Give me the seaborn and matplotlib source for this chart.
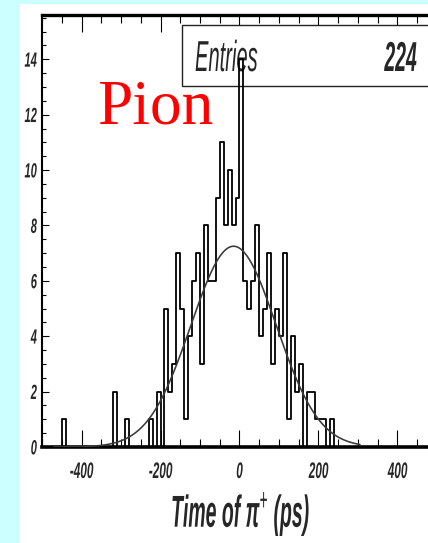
import numpy as np
import pandas as pd
import matplotlib
matplotlib.use("Agg")
import matplotlib.pyplot as plt
import seaborn as sns
from matplotlib import font_manager as fm
from matplotlib.patches import Rectangle
from matplotlib.patheffects import AbstractPathEffect
from matplotlib.transforms import Affine2D
from matplotlib.ticker import MultipleLocator

# ---- data -------------------------------------------------------------
# non-empty 10 ps bins: lower edge (ps) and number of entries
bin_low_ps = [-450, -320, -290, -230, -210, -190, -180, -170, -160, -150,
              -140, -130, -120, -110, -100, -90, -80, -70, -60, -50,
              -40, -30, -20, -10, 0, 10, 20, 30, 40, 50,
              60, 70, 80, 90, 100, 110, 120, 130, 140, 150,
              170, 180, 190, 200, 210, 230]
bin_counts = [1, 2, 1, 1, 2, 5, 2, 3, 7, 5,
              1, 4, 6, 7, 3, 8, 6, 6, 9, 11,
              8, 10, 8, 9, 14, 6, 5, 6, 8, 4,
              5, 7, 3, 5, 4, 7, 1, 4, 2, 3,
              2, 2, 1, 1, 1, 1]
entries_total = 224

# gaussian fit of the time distribution
fit_amplitude = 7.25
fit_mean_ps = -15.0
fit_sigma_ps = 108.0
fit_range_ps = (-470.0, 305.0)

x_ticks = [-400, -200, 0, 200, 400]
x_tick_labels = ["-400", "-200", "0", "200", "400"]
y_ticks = [0, 2, 4, 6, 8, 10, 12, 14]
y_tick_labels = ["0", "2", "4", "6", "8", "10", "12", "14"]

BIN_WIDTH = 10
X_RANGE = (-500, 500)
Y_MAX = 15.6


# ---- fonts --------------------------------------------------------------
def font_available(name):
    try:
        fm.findfont(fm.FontProperties(family=name), fallback_to_default=False)
        return True
    except ValueError:
        return False


SANS = "Liberation Sans Narrow" if font_available("Liberation Sans Narrow") else "Liberation Sans"

sns.set_style("ticks")
plt.rcParams["font.family"] = [SANS, "DejaVu Sans"]
plt.rcParams["axes.unicode_minus"] = False
plt.rcParams["mathtext.fontset"] = "custom"
plt.rcParams["mathtext.rm"] = SANS
plt.rcParams["mathtext.it"] = SANS + ":italic:bold"
plt.rcParams["mathtext.bf"] = SANS + ":bold"


class VStretch(AbstractPathEffect):
    """Draw glyph outlines stretched vertically about the baseline, optionally shifted."""

    def __init__(self, sy, dy=0.0):
        super().__init__()
        self._sy = sy
        self._dy = dy

    def draw_path(self, renderer, gc, tpath, affine, rgbFace=None):
        tr = Affine2D().scale(1.0, self._sy).translate(0.0, self._dy) + affine
        renderer.draw_path(gc, tpath, tr, rgbFace)


# ---- figure -------------------------------------------------------------
W, H = 428, 543
fig = plt.figure(figsize=(W / 100, H / 100), dpi=100)
fig.patch.set_facecolor("#ccffff")
fig.patches.append(Rectangle((20 / W, 0), 1 - 20 / W, (H - 4) / H,
                             transform=fig.transFigure, facecolor="white",
                             edgecolor="none", zorder=-5))

ax_left, ax_right, ax_top, ax_bottom = 42, 437, 15, 447
ax = fig.add_axes([ax_left / W, (H - ax_bottom) / H,
                   (ax_right - ax_left) / W, (ax_bottom - ax_top) / H])
ax.set_facecolor("white")

# histogram
df = pd.DataFrame({"time_ps": np.asarray(bin_low_ps, dtype=float) + BIN_WIDTH / 2,
                   "entries": np.asarray(bin_counts, dtype=float)})
sns.histplot(data=df, x="time_ps", weights="entries",
             binwidth=BIN_WIDTH, binrange=X_RANGE,
             element="step", fill=False, color="black", linewidth=1.3,
             ax=ax)

# fit curve
t_fit = np.linspace(fit_range_ps[0], fit_range_ps[1], 400)
fit_df = pd.DataFrame({
    "t": t_fit,
    "f": fit_amplitude * np.exp(-0.5 * ((t_fit - fit_mean_ps) / fit_sigma_ps) ** 2),
})
sns.lineplot(data=fit_df, x="t", y="f", color="#3a3a3a", linewidth=1.15,
             ax=ax, zorder=3)

ax.set_xlim(*X_RANGE)
ax.set_ylim(0, Y_MAX)
ax.set_ylabel("")

# spines
for side in ("top", "bottom", "left", "right"):
    ax.spines[side].set_visible(True)
    ax.spines[side].set_color("black")
ax.spines["top"].set_linewidth(2.4)
ax.spines["bottom"].set_linewidth(2.6)
ax.spines["left"].set_linewidth(1.5)
ax.spines["right"].set_linewidth(1.5)

# ticks
ax.set_xticks(x_ticks, labels=x_tick_labels)
ax.xaxis.set_minor_locator(MultipleLocator(50))
ax.set_yticks(y_ticks, labels=y_tick_labels)
ax.yaxis.set_minor_locator(MultipleLocator(0.5))
ax.tick_params(axis="x", which="both", direction="in", top=True, bottom=True,
               color="black", width=0.8)
ax.tick_params(axis="x", which="major", length=12, pad=22.3,
               labelsize=8.5)
ax.tick_params(axis="x", which="minor", length=6)
ax.tick_params(axis="y", which="both", direction="in", left=True, right=False,
               color="black", width=0.8)
ax.tick_params(axis="y", which="major", length=5, pad=3.6, labelsize=8)
ax.tick_params(axis="y", which="minor", length=3)

SY_TICK = 1.9
for lab in ax.get_xticklabels():
    lab.set_fontstyle("italic")
    lab.set_fontweight("bold")
    lab.set_va("baseline")
    lab.set_path_effects([VStretch(SY_TICK)])
for lab in ax.get_yticklabels():
    lab.set_fontstyle("italic")
    lab.set_fontweight("bold")
    lab.set_va("baseline")
    lab.set_path_effects([VStretch(1.85, -1.85 * 71.6 / 2)])

# axis title
ax.set_xlabel("Time of π$^{+}$ (ps)", fontsize=14, fontstyle="italic",
              fontweight="bold")
ax.xaxis.set_label_coords((241 - ax_left) / (ax_right - ax_left),
                          (ax_bottom - 527) / (ax_bottom - ax_top))
ax.xaxis.label.set_va("baseline")
ax.xaxis.label.set_path_effects([VStretch(2.3)])


def ax_x(px):
    return (px - ax_left) / (ax_right - ax_left)


def ax_y(py):
    return (ax_bottom - py) / (ax_bottom - ax_top)


# statistics box
ax.add_patch(Rectangle((ax_x(182), ax_y(86)), 1.0 - ax_x(182), ax_y(25) - ax_y(86),
                       transform=ax.transAxes, facecolor="white",
                       edgecolor="#222222", linewidth=1.0, zorder=1))
t1 = ax.text(ax_x(195), ax_y(71), "Entries", transform=ax.transAxes,
             fontsize=14.5, fontstyle="italic", ha="left", va="baseline", zorder=1.5)
t2 = ax.text(ax_x(417), ax_y(71), f"{entries_total}", transform=ax.transAxes,
             fontsize=14, fontstyle="italic", fontweight="bold",
             ha="right", va="baseline", zorder=1.5)
for t in (t1, t2):
    t.set_path_effects([VStretch(2.15)])

# particle label
fig.text(97 / W, (H - 124) / H, "Pion", color="red", family="Liberation Serif",
         fontsize=45.6, ha="left", va="baseline")

fig.savefig("out.png", dpi=100, facecolor=fig.get_facecolor())
